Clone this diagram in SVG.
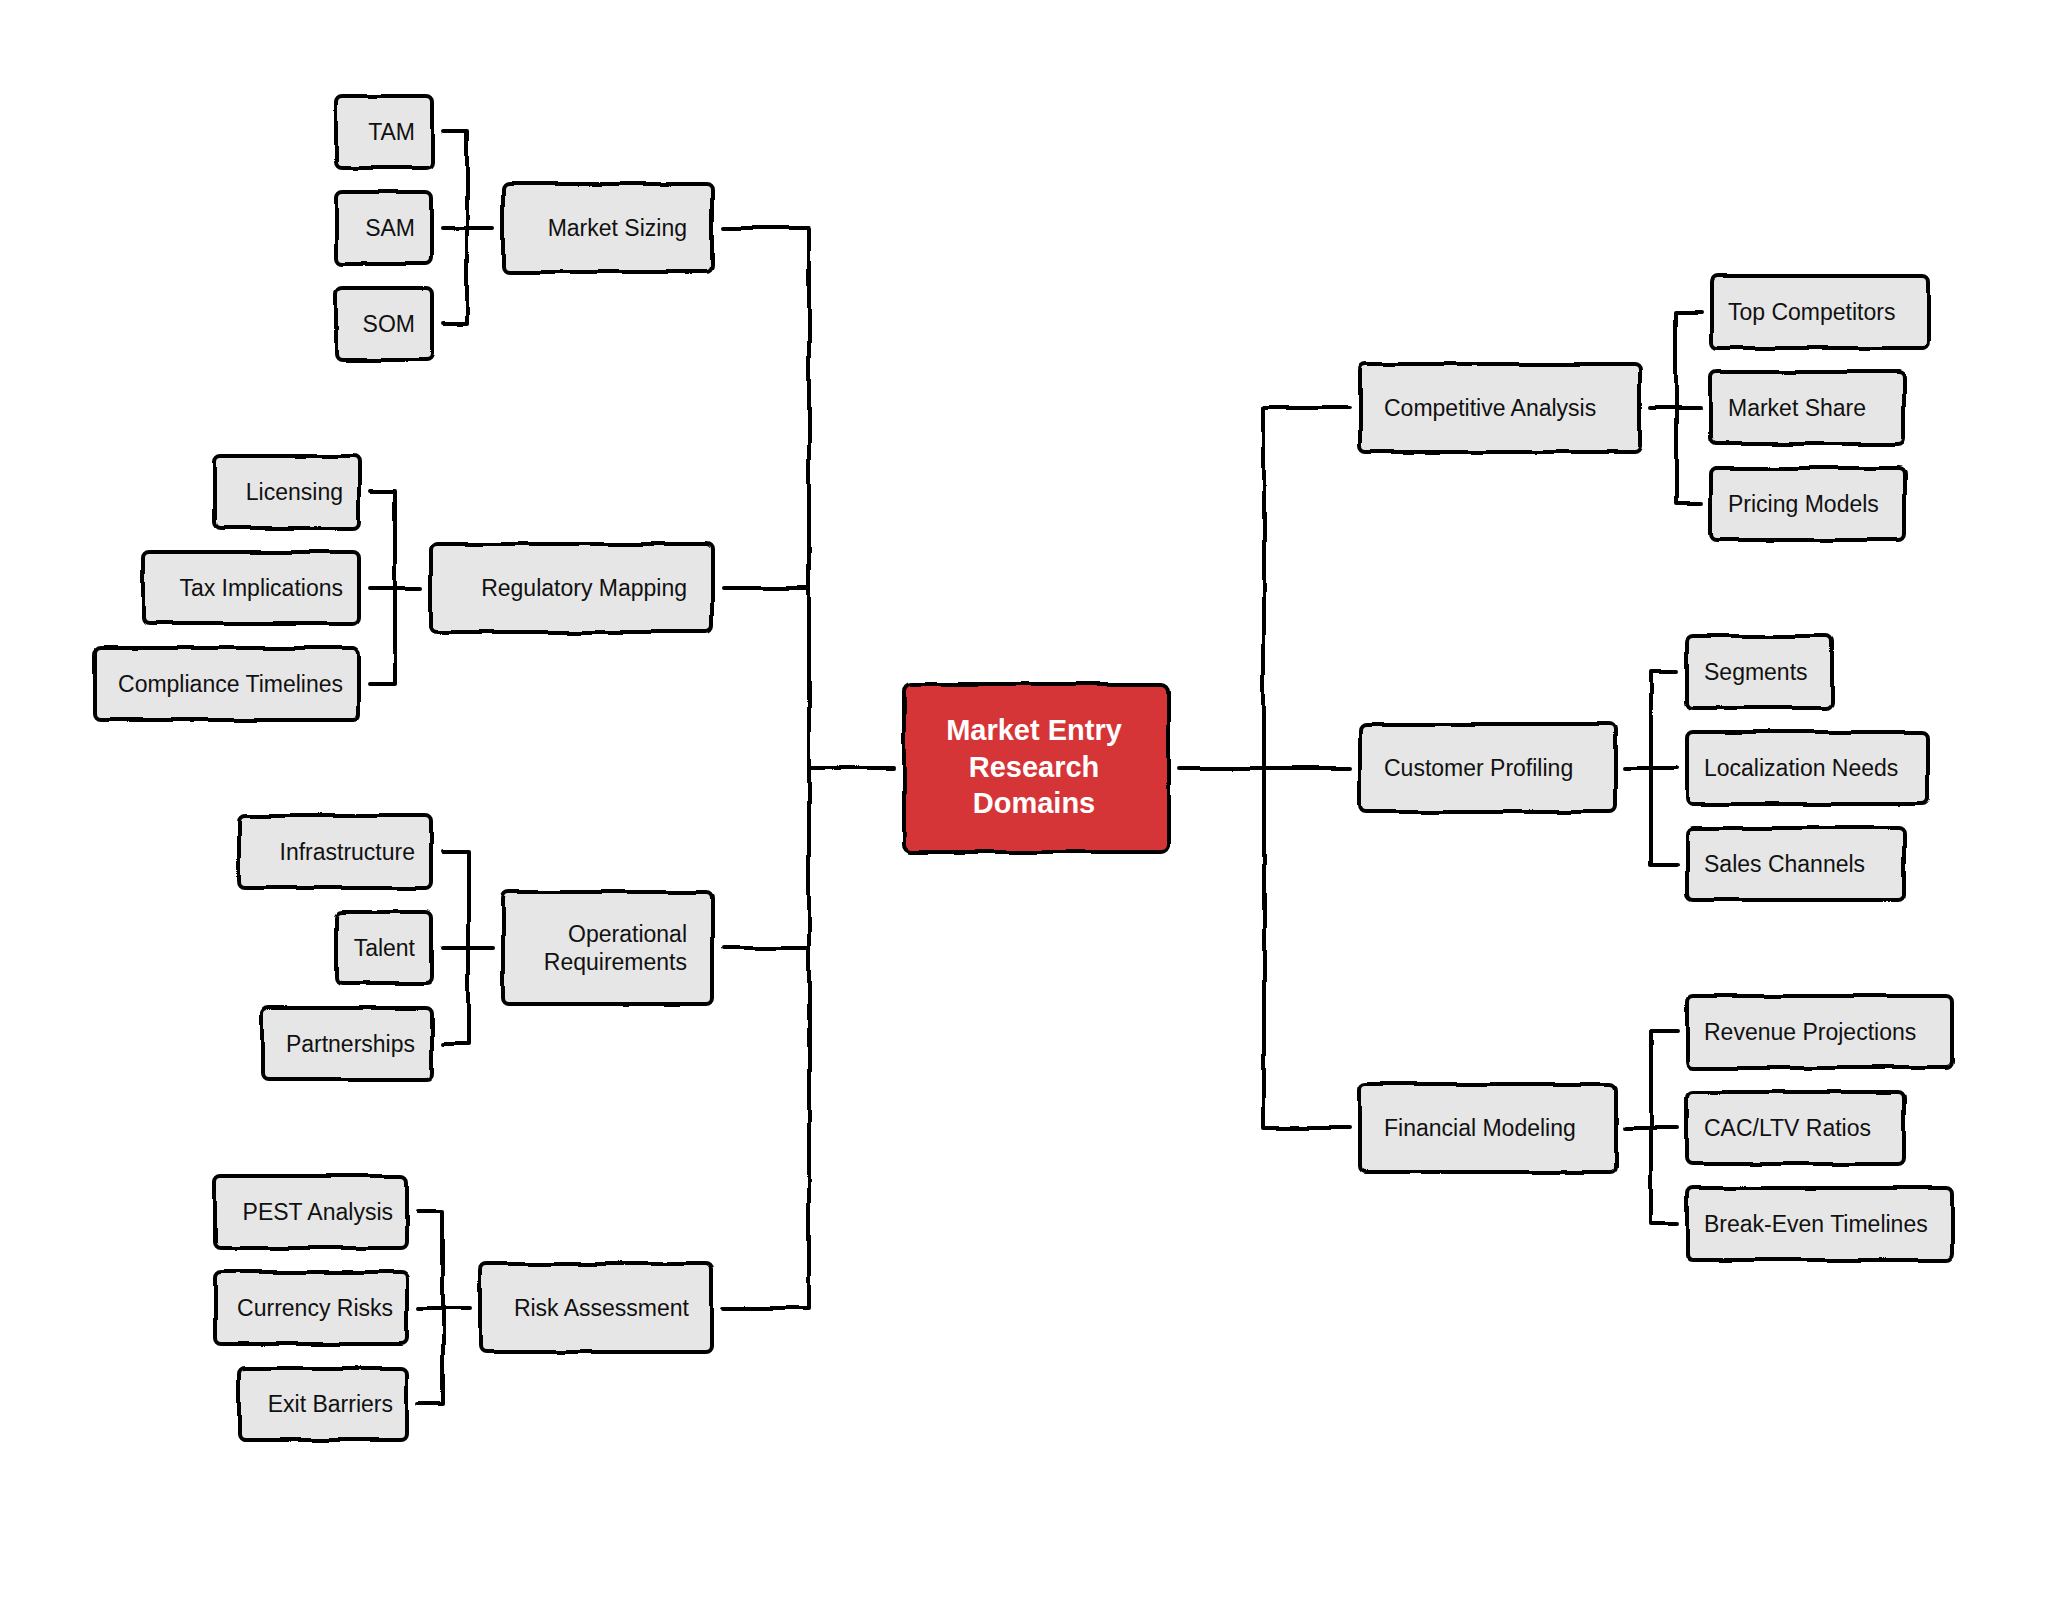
<svg xmlns="http://www.w3.org/2000/svg" width="2072" height="1608" viewBox="0 0 2072 1608">
<defs>
<filter id="rough" filterUnits="userSpaceOnUse" x="0" y="0" width="2072" height="1608">
<feTurbulence type="fractalNoise" baseFrequency="0.02" numOctaves="2" seed="7" result="n"/>
<feDisplacementMap in="SourceGraphic" in2="n" scale="5" xChannelSelector="R" yChannelSelector="G"/>
</filter>
<style>
.box{fill:#e6e6e6;stroke:#000;stroke-width:4;}
.root{fill:#d63638;stroke:#000;stroke-width:4;}
.conn path{fill:none;stroke:#000;stroke-width:4;stroke-linecap:round;stroke-linejoin:round;}
.t{font-family:"Liberation Sans",Arial,Helvetica,sans-serif;font-size:23px;fill:#111;}
.r{text-anchor:end;}
.l{text-anchor:start;}
.rt{font-family:"Liberation Sans",Arial,Helvetica,sans-serif;font-size:29px;font-weight:bold;fill:#fff;text-anchor:middle;}
</style>
</defs>
<rect width="2072" height="1608" fill="#fff"/>

<g id="connectors" class="conn" filter="url(#rough)">
<path d="M723,228 H809 V1308 H723"/>
<path d="M723,588 H809"/>
<path d="M723,948 H809"/>
<path d="M809,768 H893"/>
<path d="M1178,768 H1350"/>
<path d="M1350,408 H1264 V1128 H1350"/>
<path d="M443,132 H467 V324 H443"/>
<path d="M443,228 H493"/>
<path d="M370,492 H395 V684 H370"/>
<path d="M370,588 H421"/>
<path d="M443,852 H468 V1044 H443"/>
<path d="M443,948 H493"/>
<path d="M418,1212 H443 V1404 H418"/>
<path d="M418,1308 H470"/>
<path d="M1701,312 H1676 V504 H1701"/>
<path d="M1650,408 H1701"/>
<path d="M1677,672 H1651 V864 H1677"/>
<path d="M1625,768 H1677"/>
<path d="M1677,1032 H1651 V1224 H1677"/>
<path d="M1625,1128 H1677"/>
</g>

<g id="node-root"><rect class="root" x="904" y="684" width="264" height="168" rx="7" filter="url(#rough)"/>
<text class="rt" x="1034" y="740">Market Entry</text><text class="rt" x="1034" y="777">Research</text><text class="rt" x="1034" y="813">Domains</text></g>

<g id="node-market-sizing"><rect class="box" x="503" y="184" width="209" height="88" rx="6" filter="url(#rough)"/><text class="t r" x="687" y="236">Market Sizing</text></g>
<g id="node-tam"><rect class="box" x="336" y="96" width="96" height="72" rx="6" filter="url(#rough)"/><text class="t r" x="415" y="140">TAM</text></g>
<g id="node-sam"><rect class="box" x="336" y="192" width="96" height="72" rx="6" filter="url(#rough)"/><text class="t r" x="415" y="236">SAM</text></g>
<g id="node-som"><rect class="box" x="336" y="288" width="96" height="72" rx="6" filter="url(#rough)"/><text class="t r" x="415" y="332">SOM</text></g>

<g id="node-regulatory-mapping"><rect class="box" x="431" y="544" width="281" height="88" rx="6" filter="url(#rough)"/><text class="t r" x="687" y="596">Regulatory Mapping</text></g>
<g id="node-licensing"><rect class="box" x="215" y="456" width="144" height="72" rx="6" filter="url(#rough)"/><text class="t r" x="343" y="500">Licensing</text></g>
<g id="node-tax-implications"><rect class="box" x="143" y="552" width="216" height="72" rx="6" filter="url(#rough)"/><text class="t r" x="343" y="596">Tax Implications</text></g>
<g id="node-compliance-timelines"><rect class="box" x="95" y="648" width="264" height="72" rx="6" filter="url(#rough)"/><text class="t r" x="343" y="692">Compliance Timelines</text></g>

<g id="node-operational-requirements"><rect class="box" x="503" y="892" width="209" height="112" rx="6" filter="url(#rough)"/><text class="t r" x="687" y="942">Operational</text><text class="t r" x="687" y="970">Requirements</text></g>
<g id="node-infrastructure"><rect class="box" x="239" y="816" width="193" height="72" rx="6" filter="url(#rough)"/><text class="t r" x="415" y="860">Infrastructure</text></g>
<g id="node-talent"><rect class="box" x="336" y="912" width="96" height="72" rx="6" filter="url(#rough)"/><text class="t r" x="415" y="956">Talent</text></g>
<g id="node-partnerships"><rect class="box" x="263" y="1008" width="169" height="72" rx="6" filter="url(#rough)"/><text class="t r" x="415" y="1052">Partnerships</text></g>

<g id="node-risk-assessment"><rect class="box" x="480" y="1264" width="232" height="88" rx="6" filter="url(#rough)"/><text class="t r" x="689" y="1316">Risk Assessment</text></g>
<g id="node-pest-analysis"><rect class="box" x="215" y="1176" width="192" height="72" rx="6" filter="url(#rough)"/><text class="t r" x="393" y="1220">PEST Analysis</text></g>
<g id="node-currency-risks"><rect class="box" x="215" y="1272" width="192" height="72" rx="6" filter="url(#rough)"/><text class="t r" x="393" y="1316">Currency Risks</text></g>
<g id="node-exit-barriers"><rect class="box" x="239" y="1368" width="168" height="72" rx="6" filter="url(#rough)"/><text class="t r" x="393" y="1412">Exit Barriers</text></g>

<g id="node-competitive-analysis"><rect class="box" x="1360" y="364" width="280" height="88" rx="6" filter="url(#rough)"/><text class="t l" x="1384" y="416">Competitive Analysis</text></g>
<g id="node-top-competitors"><rect class="box" x="1711" y="276" width="217" height="72" rx="6" filter="url(#rough)"/><text class="t l" x="1728" y="320">Top Competitors</text></g>
<g id="node-market-share"><rect class="box" x="1711" y="372" width="193" height="72" rx="6" filter="url(#rough)"/><text class="t l" x="1728" y="416">Market Share</text></g>
<g id="node-pricing-models"><rect class="box" x="1711" y="468" width="193" height="72" rx="6" filter="url(#rough)"/><text class="t l" x="1728" y="512">Pricing Models</text></g>

<g id="node-customer-profiling"><rect class="box" x="1360" y="724" width="256" height="88" rx="6" filter="url(#rough)"/><text class="t l" x="1384" y="776">Customer Profiling</text></g>
<g id="node-segments"><rect class="box" x="1687" y="636" width="145" height="72" rx="6" filter="url(#rough)"/><text class="t l" x="1704" y="680">Segments</text></g>
<g id="node-localization-needs"><rect class="box" x="1687" y="732" width="241" height="72" rx="6" filter="url(#rough)"/><text class="t l" x="1704" y="776">Localization Needs</text></g>
<g id="node-sales-channels"><rect class="box" x="1687" y="828" width="217" height="72" rx="6" filter="url(#rough)"/><text class="t l" x="1704" y="872">Sales Channels</text></g>

<g id="node-financial-modeling"><rect class="box" x="1360" y="1084" width="256" height="88" rx="6" filter="url(#rough)"/><text class="t l" x="1384" y="1136">Financial Modeling</text></g>
<g id="node-revenue-projections"><rect class="box" x="1687" y="996" width="265" height="72" rx="6" filter="url(#rough)"/><text class="t l" x="1704" y="1040">Revenue Projections</text></g>
<g id="node-cac-ltv-ratios"><rect class="box" x="1687" y="1092" width="217" height="72" rx="6" filter="url(#rough)"/><text class="t l" x="1704" y="1136">CAC/LTV Ratios</text></g>
<g id="node-break-even-timelines"><rect class="box" x="1687" y="1188" width="265" height="72" rx="6" filter="url(#rough)"/><text class="t l" x="1704" y="1232">Break-Even Timelines</text></g>
</svg>
